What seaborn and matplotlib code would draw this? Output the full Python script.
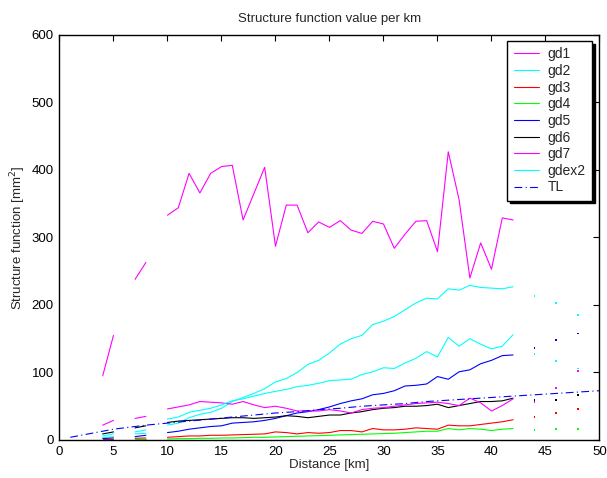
import matplotlib.pyplot as plt
import pandas as pd
import seaborn as sns
import numpy as np
from matplotlib.lines import Line2D

nan = np.nan

# distance [km] of the sampled points (gaps are real gaps in the data)
dist = [4, 5, 7, 8, 10, 11, 12, 13, 14, 15, 16, 17, 18, 19, 20, 21, 22, 23, 24, 25,
        26, 27, 28, 29, 30, 31, 32, 33, 34, 35, 36, 37, 38, 39, 40, 41, 42, 44, 46, 48]

gd1 = [95, 155, 238, 263, 333, 344, 395, 366, 395, 405, 407, 326, 365, 404, 287, 348, 348, 307, 323, 315,
       325, 311, 306, 324, 320, 284, 305, 324, 325, 279, 427, 356, 240, 292, 253, 329, 326, nan, nan, nan]
gd2 = [3.5, 5, 9, 10, 22, 25, 33, 38, 41, 47, 57, 63, 69, 76, 86, 91, 100, 112, 118, 129,
       142, 150, 155, 171, 176, 183, 193, 203, 210, 209, 224, 222, 229, 226, 225, 224, 227, 213, 203, 185]
gd3 = [1, 1, 2.5, 3, 4, 5, 6, 6, 7, 7, 7.5, 8, 8.5, 9, 12, 11, 9, 11, 10, 11,
       14, 14, 12, 17, 15, 15, 16, 18, 17, 16, 22, 21, 21, 23, 25, 27, 30, 34, 40, 46]
gd4 = [0.5, 0.5, 1, 1, 1.5, 2, 2, 2.5, 2.5, 3, 3, 3.5, 4, 4, 4.5, 5, 5.5, 6, 6.5, 7,
       7.5, 8, 8.5, 9, 9.5, 10, 11, 12, 13, 13, 17, 15, 17, 16, 14, 16, 17, 15, 16, 16]
gd5 = [2, 3, 5, 7, 11, 13, 16, 18, 20, 21, 25, 26, 27, 29, 32, 36, 40, 42, 45, 49,
       54, 58, 61, 67, 69, 73, 80, 81, 83, 94, 90, 101, 104, 113, 118, 125, 126, 136, 148, 158]
gd6 = [9, 12, 18, 21, 26, 28, 29, 30, 31, 32, 33, 33, 32, 33, 34, 36, 35, 33, 35, 37,
       37, 40, 42, 45, 47, 48, 50, 50, 51, 53, 48, 51, 54, 57, 57, 58, 62, 59, 59, 67]
gd7 = [22, 29, 32, 35, 46, 49, 52, 57, 56, 55, 53, 57, 52, 48, 50, 47, 43, 43, 43, 45,
       43, 40, 45, 47, 48, 50, 52, 54, 55, 56, 54, 51, 62, 55, 43, 51, 61, 56, 77, 102]
gdex2 = [6, 9, 12, 15, 31, 34, 41, 44, 47, 52, 58, 61, 65, 69, 72, 75, 79, 81, 84, 88,
         89, 90, 97, 101, 107, 106, 114, 121, 131, 123, 152, 139, 150, 142, 135, 139, 156, 127, 117, 106]

tl_dist = [1, 2, 3, 4, 5, 6, 8, 10, 12, 14, 16, 18, 20, 22, 24, 26, 28, 30,
           32, 34, 36, 38, 40, 42, 44, 46, 48, 50]
tl = [4, 7, 10, 13, 16, 18, 22, 25, 28, 31, 34, 37, 40, 42, 45, 47, 50, 52,
      54, 57, 59, 61, 63, 65, 67, 69, 71, 73]

names = ['gd1', 'gd2', 'gd3', 'gd4', 'gd5', 'gd6', 'gd7', 'gdex2']
series = [gd1, gd2, gd3, gd4, gd5, gd6, gd7, gdex2]
colors = {'gd1': '#ff00ff', 'gd2': '#00ffff', 'gd3': '#ff0000', 'gd4': '#00ff00',
          'gd5': '#0000ff', 'gd6': '#000000', 'gd7': '#ff00ff', 'gdex2': '#00ffff'}

# long table, split into connected segments
rows = []
for name, vals in zip(names, series):
    seg, prev = 0, None
    for x, y in zip(dist, vals):
        if np.isnan(y):
            continue
        if prev is not None and x - prev > 1:
            seg += 1
        rows.append((name, seg, x, y))
        prev = x
df = pd.DataFrame(rows, columns=['series', 'seg', 'dist', 'val'])
n = df.groupby(['series', 'seg'])['dist'].transform('size')
lines = df[n > 1]
dots = df[n == 1]
df_tl = pd.DataFrame({'dist': tl_dist, 'val': tl})

sns.set_theme(style='white')
plt.rcParams['font.family'] = ['Liberation Sans', 'DejaVu Sans']
plt.rcParams['font.size'] = 9.5

fig = plt.figure(figsize=(6.07, 4.78), dpi=100)
ax = fig.add_axes([0.098, 0.0795, 0.8896, 0.8473])

sns.lineplot(data=lines, x='dist', y='val', hue='series', units='seg', estimator=None,
             palette=colors, sort=False, lw=0.8, ax=ax, legend=False)
sns.scatterplot(data=dots, x='dist', y='val', hue='series', palette=colors,
                s=1.3, marker='s', linewidth=0, ax=ax, legend=False)
sns.lineplot(data=df_tl, x='dist', y='val', color='#0000ff', lw=0.8,
             linestyle=(0, (7, 3, 1, 3)), ax=ax)

ax.set_xlim(0, 50)
ax.set_ylim(0, 600)
ax.set_xticks(np.arange(0, 51, 5))
ax.set_yticks(np.arange(0, 601, 100))
ax.tick_params(direction='in', top=True, right=True, length=4, width=0.8,
               labelsize=9.5, colors='black', pad=4)
for s in ax.spines.values():
    s.set_linewidth(1.0)
    s.set_color('black')

ax.set_title('Structure function value per km', fontsize=9.5, pad=9)
ax.set_xlabel('Distance [km]', fontsize=9.5, labelpad=1)
ax.set_ylabel('Structure function [mm$^2$]', fontsize=9.5, labelpad=3)

handles = [Line2D([], [], color=colors[k], lw=0.8) for k in names]
handles.append(Line2D([], [], color='#0000ff', lw=0.8, linestyle=(0, (7, 3, 1, 3))))
leg = ax.legend(handles, names + ['TL'], loc='upper right', bbox_to_anchor=(0.986, 0.985),
                frameon=True, fancybox=False, shadow={'color': 'black', 'alpha': 1},
                fontsize=10, handlelength=1.8, labelspacing=0.19, borderpad=0.45,
                handletextpad=0.65, borderaxespad=0)
leg.get_frame().set_edgecolor('black')
leg.get_frame().set_linewidth(1.0)
leg.get_frame().set_alpha(1)

fig.savefig('out.png', dpi=100)
